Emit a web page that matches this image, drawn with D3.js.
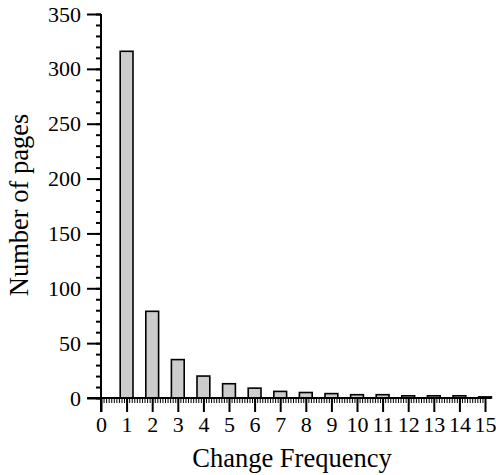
<!DOCTYPE html>
<html lang="en">
<head>
    <meta charset="UTF-8">
    <title>Change Frequency</title>
    <script src="https://cdn.jsdelivr.net/npm/d3@7"></script>
    <style>
        body { margin: 0; background: #fff; }
        text { font-family: "Liberation Serif", "Times New Roman", serif; fill: #000; }
    </style>
</head>
<body>
<script>
    var width = 496;
    var height = 475;

    // data
    var categories = [1, 2, 3, 4, 5, 6, 7, 8, 9, 10, 11, 12, 13, 14, 15];
    var pages = [316, 79, 35, 20, 13, 9, 6, 5, 4, 3, 3, 2, 2, 2, 1];
    var xTicks = d3.range(0, 16);
    var yTicks = [0, 50, 100, 150, 200, 250, 300, 350];

    var plotLeft = 101, plotTop = 14, plotRight = 485, plotBottom = 398;

    var svg = d3.select("body").append("svg")
        .attr("width", width).attr("height", height);

    var xScale = d3.scaleLinear().domain([0, 15]).range([plotLeft, plotRight]);
    var yScale = d3.scaleLinear().domain([0, 350]).range([plotBottom, plotTop]);

    // bars
    svg.selectAll("rect.bar")
        .data(categories)
        .enter()
        .append("rect")
        .attr("class", "bar")
        .attr("x", function (d) { return xScale(d - 0.25); })
        .attr("width", xScale(0.5) - xScale(0))
        .attr("y", function (d, i) { return yScale(pages[i]); })
        .attr("height", function (d, i) { return plotBottom - yScale(pages[i]); })
        .attr("fill", "#cccccc")
        .attr("stroke", "#000")
        .attr("stroke-width", 1.6);

    // x axis: minor ticks every 0.1, major ticks at integers
    var xMinor = d3.axisBottom(xScale).tickValues(d3.range(0, 150).map(function (i) { return i / 10; }))
        .tickSize(5).tickFormat("");
    svg.append("g").attr("transform", "translate(0," + plotBottom + ")").call(xMinor)
        .call(function (g) { g.select(".domain").remove(); })
        .selectAll("line").attr("stroke-width", 1);

    var xAxis = d3.axisBottom(xScale).tickValues(xTicks).tickSize(14).tickPadding(4)
        .tickFormat(d3.format("d"));
    var gx = svg.append("g").attr("transform", "translate(0," + plotBottom + ")").call(xAxis);
    gx.select(".domain").attr("d", "M" + (plotLeft - 14) + ",0H" + (plotRight + 6)).attr("stroke-width", 2);
    gx.selectAll("line").attr("stroke-width", 2);
    gx.selectAll("text").attr("font-size", 22).attr("dy", "0.71em")
        .attr("font-family", "Liberation Serif");

    // y axis: minor ticks every 10
    var yMinor = d3.axisLeft(yScale).tickValues(d3.range(0, 351, 10)).tickSize(5).tickFormat("");
    svg.append("g").attr("transform", "translate(" + plotLeft + ",0)").call(yMinor)
        .call(function (g) { g.select(".domain").remove(); })
        .selectAll("line").attr("stroke-width", 2);

    var yAxis = d3.axisLeft(yScale).tickValues(yTicks).tickSize(14).tickPadding(6);
    var gy = svg.append("g").attr("transform", "translate(" + plotLeft + ",0)").call(yAxis);
    gy.select(".domain").attr("d", "M0," + plotTop + "V" + (plotBottom + 14)).attr("stroke-width", 2);
    gy.selectAll("line").attr("stroke-width", 2);
    gy.selectAll("text").attr("font-size", 22).attr("font-family", "Liberation Serif");

    // axis titles
    svg.append("text")
        .attr("x", 292).attr("y", 467)
        .attr("text-anchor", "middle")
        .attr("font-size", 26.5)
        .text("Change Frequency");

    svg.append("text")
        .attr("transform", "translate(28,205) rotate(-90)")
        .attr("text-anchor", "middle")
        .attr("font-size", 26.5)
        .text("Number of pages");
</script>
</body>
</html>
